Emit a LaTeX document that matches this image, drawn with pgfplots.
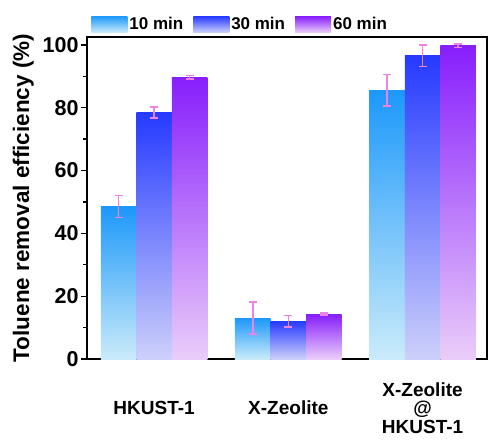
\documentclass[border=0pt]{standalone}
\usepackage{fontspec}
\setmainfont{Liberation Sans}
\usepackage{pgfplots}
\pgfplotsset{compat=1.18}
\definecolor{cAtop}{RGB}{28,152,250}
\definecolor{cAbot}{RGB}{202,235,250}
\definecolor{cBtop}{RGB}{38,58,255}
\definecolor{cBbot}{RGB}{205,208,250}
\definecolor{cCtop}{RGB}{135,30,252}
\definecolor{cCbot}{RGB}{234,205,250}
\definecolor{errc}{RGB}{240,130,230}
\pgfplotsset{
  sA/.style={draw=none, top color=cAtop, bottom color=cAbot, bar shift=-0.265},
  sB/.style={draw=none, top color=cBtop, bottom color=cBbot, bar shift=0},
  sC/.style={draw=none, top color=cCtop, bottom color=cCbot, bar shift=0.265},
}
\begin{document}
\begin{tikzpicture}
\begin{axis}[
  scale only axis,
  width=400pt, height=322pt,
  xmin=-0.5, xmax=2.48,
  ymin=0, ymax=102.5,
  ybar=0pt, bar width=0.265,
  xtick={0,1,2},
  xticklabels={HKUST-1, X-Zeolite, {X-Zeolite\\@\\HKUST-1}},
  xticklabel style={align=center, anchor=center, font=\fontsize{19}{18.5}\selectfont\bfseries, yshift=-43pt},
  major x tick style={draw=none},
  ytick={0,20,40,60,80,100},
  minor ytick={10,30,50,70,90},
  tick align=outside,
  ytick pos=left,
  major tick length=6pt, minor tick length=4pt,
  tick style={line width=1.3pt, black},
  axis line style={line width=2pt},
  yticklabel style={font=\fontsize{21.5}{22}\selectfont\bfseries, xshift=1pt},
  /pgf/number format/assume math mode=true,
  ylabel={Toluene removal efficiency (\%)},
  ylabel style={font=\fontsize{22.5}{23}\selectfont\bfseries, yshift=2pt},
  legend columns=3,
  legend style={draw=none, fill=none, at={(rel axis cs:0.003,1.005)}, anchor=south west,
    font=\fontsize{17}{20}\selectfont\bfseries, /tikz/every even column/.append style={column sep=8pt}},
  legend image code/.code={\path[#1, draw=none] (0pt,-8pt) rectangle (36pt,8pt);},
  error bars/y dir=both, error bars/y explicit,
  error bars/error bar style={line width=1.6pt, errc},
  error bars/error mark options={line width=1.6pt, errc, mark size=4pt, rotate=90},
]
\addplot[sA] coordinates {(0,48.5) +- (0,3.5)};
\addplot[sB] coordinates {(0,78.5) +- (0,1.7)};
\addplot[sC] coordinates {(0,89.7) +- (0,0.5)};
\addplot[sA, forget plot] coordinates {(1,13.0) +- (0,5.1)};
\addplot[sB, forget plot] coordinates {(1,12.0) +- (0,1.8)};
\addplot[sC, forget plot] coordinates {(1,14.3) +- (0,0.3)};
\addplot[sA, forget plot] coordinates {(2,85.5) +- (0,5.0)};
\addplot[sB, forget plot] coordinates {(2,96.5) +- (0,3.4)};
\addplot[sC, forget plot] coordinates {(2,99.7) +- (0,0.5)};
\legend{10 min, 30 min, 60 min}
\end{axis}
\pgfresetboundingbox
\path (current axis.south west) ++(-87pt,-80pt) coordinate (bbA);
\path (current axis.north east) ++(2pt,37pt) coordinate (bbB);
\useasboundingbox (bbA) rectangle (bbB);
\end{tikzpicture}
\end{document}
